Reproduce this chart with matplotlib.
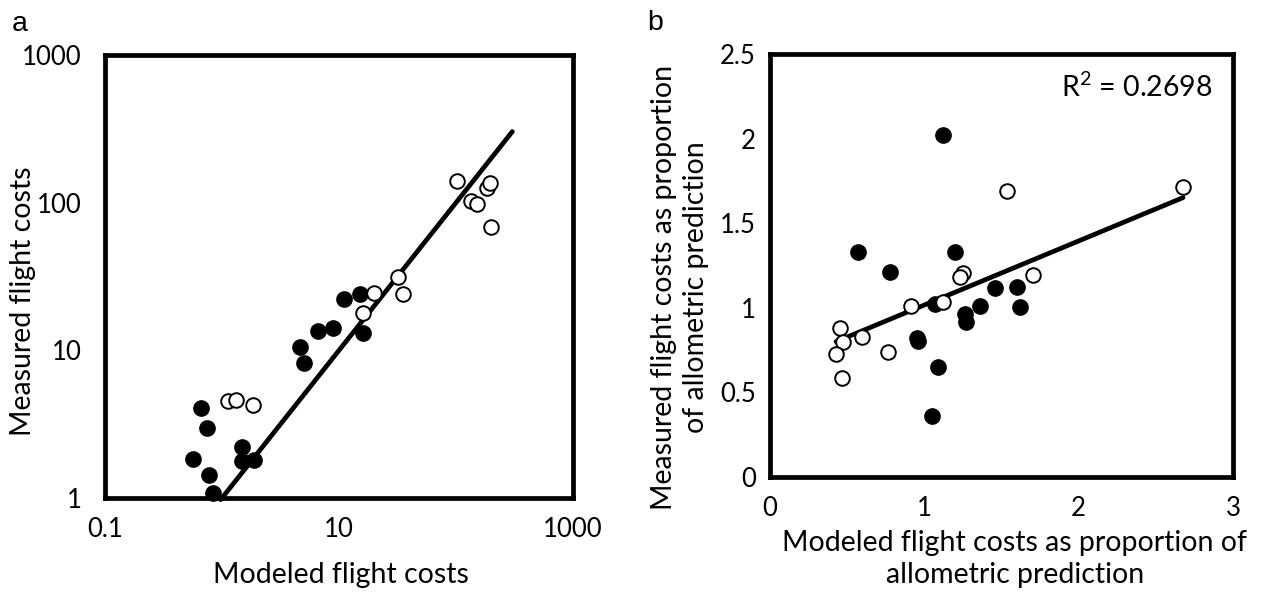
import matplotlib
matplotlib.use("Agg")
import matplotlib.pyplot as plt
import numpy as np

# ---- Panel a data (log-log) ----
a_filled_x = [0.66, 0.74, 0.57, 0.77, 0.83, 1.47, 1.47, 1.88, 4.64, 5.05, 6.58, 8.83, 11.1, 15.1, 16.1]
a_filled_y = [4.09, 2.99, 1.83, 1.43, 1.08, 2.23, 1.79, 1.81, 10.5, 8.17, 13.6, 14.2, 22.1, 24.1, 13.2]
a_open_x = [1.12, 1.32, 1.83, 16.1, 19.9, 31.7, 35.0, 101, 134, 150, 183, 195, 198]
a_open_y = [4.54, 4.61, 4.26, 18.0, 24.3, 31.5, 24.1, 141, 102, 97.9, 125, 136, 68.7]
a_line_x = [0.975, 303]
a_line_y = [0.975, 303]
a_xticks = [0.1, 10, 1000]
a_xticklabels = ["0.1", "10", "1000"]
a_yticks = [1, 10, 100, 1000]
a_yticklabels = ["1", "10", "100", "1000"]

# ---- Panel b data ----
b_filled_x = [1.123, 0.572, 0.776, 1.201, 1.458, 1.601, 1.620, 1.359, 1.069, 1.262, 1.273, 0.950, 0.961, 1.091, 1.048]
b_filled_y = [2.021, 1.330, 1.210, 1.330, 1.115, 1.125, 1.007, 1.011, 1.022, 0.963, 0.916, 0.823, 0.804, 0.652, 0.361]
b_open_x = [2.674, 1.538, 1.248, 1.229, 1.701, 1.119, 0.912, 0.454, 0.471, 0.596, 0.428, 0.767, 0.467]
b_open_y = [1.716, 1.690, 1.207, 1.184, 1.192, 1.036, 1.011, 0.879, 0.796, 0.829, 0.727, 0.741, 0.587]
b_line_x = [0.428, 2.676]
b_line_y = [0.800, 1.651]
b_xticks = [0, 1, 2, 3]
b_yticks = [0, 0.5, 1, 1.5, 2, 2.5]
b_yticklabels = ["0", "0.5", "1", "1.5", "2", "2.5"]
r2_text = "R$^2$ = 0.2698"

FONT = ["Lato", "DejaVu Sans"]
plt.rcParams['font.family'] = FONT
plt.rcParams['mathtext.fontset'] = 'custom'
plt.rcParams['mathtext.rm'] = 'Lato'
W, H = 1261, 592
fig = plt.figure(figsize=(W / 100, H / 100), dpi=100)

def ax_rect(l, t, r, b):
    return [l / W, 1 - b / H, (r - l) / W, (b - t) / H]

def fx(px):
    return px / W

def fy(py):
    return 1 - py / H

FS = 20.5
TFS = 18.5
ms = 11
LW = 3.4

# Panel a
ax = fig.add_axes(ax_rect(105, 55, 573, 498))
ax.set_xscale("log")
ax.set_yscale("log")
ax.set_xlim(0.1, 1000)
ax.set_ylim(1, 1000)
ax.plot(a_line_x, a_line_y, color="black", lw=LW, solid_capstyle="round", zorder=2, clip_on=False)
ax.plot(a_filled_x, a_filled_y, "o", color="black", ms=ms, zorder=3, clip_on=False)
ax.plot(a_open_x, a_open_y, "o", mfc="white", mec="black", mew=1.4, ms=ms - 0.5, zorder=3, clip_on=False)
ax.set_xticks(a_xticks)
ax.set_xticklabels(a_xticklabels)
ax.set_yticks(a_yticks)
ax.set_yticklabels(a_yticklabels)
ax.minorticks_off()
ax.tick_params(axis="both", length=0, labelsize=TFS)
ax.tick_params(axis="x", pad=14)
ax.tick_params(axis="y", pad=17)
for s in ax.spines.values():
    s.set_linewidth(LW)
fig.text(fx(341), fy(575), "Modeled flight costs", fontsize=FS, ha="center", va="center")
fig.text(fx(23), fy(301), "Measured flight costs", fontsize=FS, ha="center", va="center", rotation=90)
fig.text(fx(20), fy(24), "a", fontsize=FS, family=["Liberation Sans"], ha="center", va="center")

# Panel b
bx = fig.add_axes(ax_rect(770, 54, 1233, 477))
bx.set_xlim(0, 3)
bx.set_ylim(0, 2.5)
bx.plot(b_line_x, b_line_y, color="black", lw=LW, solid_capstyle="round", zorder=2)
bx.plot(b_filled_x, b_filled_y, "o", color="black", ms=ms, zorder=3)
bx.plot(b_open_x, b_open_y, "o", mfc="white", mec="black", mew=1.4, ms=ms - 0.5, zorder=3)
bx.set_xticks(b_xticks)
bx.set_yticks(b_yticks)
bx.set_yticklabels(b_yticklabels)
bx.tick_params(axis="both", length=0, labelsize=TFS)
bx.tick_params(axis="x", pad=14)
bx.tick_params(axis="y", pad=10)
for s in bx.spines.values():
    s.set_linewidth(LW)
fig.text(fx(1015), fy(559), "Modeled flight costs as proportion of\nallometric prediction",
         fontsize=FS, ha="center", va="center", multialignment="center", linespacing=1.25)
fig.text(fx(680), fy(287), "Measured flight costs as proportion\nof allometric prediction",
         fontsize=FS, ha="center", va="center", multialignment="center", linespacing=1.25, rotation=90)
bx.text(0.957, 0.922, r2_text, transform=bx.transAxes, fontsize=FS, ha="right", va="center")
fig.text(fx(655), fy(23), "b", fontsize=FS, family=["Liberation Sans"], ha="center", va="center")

fig.savefig("out.png", dpi=100)
